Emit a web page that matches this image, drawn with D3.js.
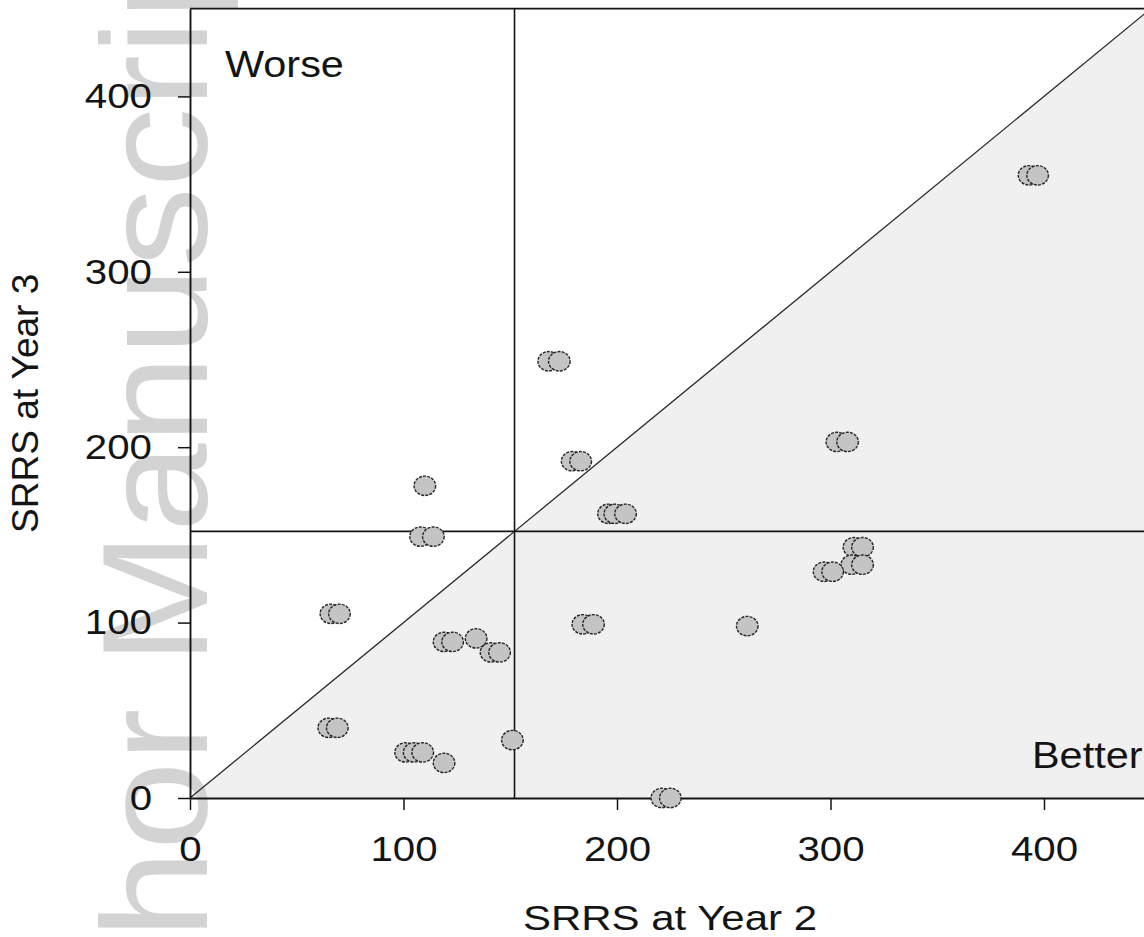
<!DOCTYPE html>
<html>
<head>
<meta charset="utf-8">
<script src="https://cdn.jsdelivr.net/npm/d3@7"></script>
<style>
  body { margin: 0; background: #fff; }
  svg { display: block; font-family: 'Liberation Sans', Arial, sans-serif; }
</style>
</head>
<body>
<div id="plot"></div>
<script>
// SRRS scores, one entry per child
const year2 = [110, 108, 114, 66, 70, 65, 69, 101, 105, 109, 119, 151, 221, 225,
    119, 123, 134, 141, 145, 184, 189, 261, 168, 173, 179, 183, 196, 199, 204,
    303, 308, 311, 315, 310, 315, 297, 301, 393, 397];
const year3 = [178, 149, 149, 105, 105, 40, 40, 26, 26, 26, 20, 33, 0, 0,
    89, 89, 91, 83, 83, 99, 99, 98, 249, 249, 192, 192, 162, 162, 162,
    203, 203, 143, 143, 133, 133, 129, 129, 355, 355];
const xTicks = [0, 100, 200, 300, 400];
const yTicks = [0, 100, 200, 300, 400];
const cutoff = 152;
const axisMax = 450;
const cornerLabels = ['Worse', 'Better'];
const xTitle = 'SRRS at Year 2';
const yTitle = 'SRRS at Year 3';
const watermark = 'Author Manuscript';

const W = 1144, H = 937;
const ink = '#141414';

const points = year2.map((d, i) => ({x: d, y: year3[i]}));

const svg = d3.select('#plot')
    .append('svg')
    .attr('width', W)
    .attr('height', H);

const x = d3.scaleLinear().domain([0, axisMax]).range([190, 190 + 2.135 * axisMax]);
const y = d3.scaleLinear().domain([0, axisMax]).range([798, 798 - 1.754 * axisMax]);

// stretch text horizontally, the source image is a bit wide
function widen(sel, k) {
    sel.each(function() {
        const w = this.getComputedTextLength();
        d3.select(this)
            .attr('textLength', w * k)
            .attr('lengthAdjust', 'spacingAndGlyphs');
    });
}

svg.append('rect')
    .attr('width', W).attr('height', H)
    .attr('fill', '#fff');

// "better" half below the identity line
svg.append('path')
    .attr('d', d3.line()([[x(0), y(0)], [x(axisMax), y(0)], [x(axisMax), y(axisMax)]]))
    .attr('fill', '#f0f0f0');

// watermark
svg.append('text')
    .attr('transform', `translate(207, 1177) rotate(-90)`)
    .attr('font-size', 150)
    .attr('fill', '#d3d3d3')
    .attr('textLength', 1290)
    .attr('lengthAdjust', 'spacingAndGlyphs')
    .text(watermark);

// frame top
svg.append('line')
    .attr('x1', x(0)).attr('x2', x(axisMax))
    .attr('y1', y(axisMax)).attr('y2', y(axisMax))
    .attr('stroke', ink).attr('stroke-width', 1.8);

// identity line
svg.append('line')
    .attr('x1', x(0)).attr('y1', y(0))
    .attr('x2', x(axisMax)).attr('y2', y(axisMax))
    .attr('stroke', '#2a2a2a').attr('stroke-width', 1.3);

// cutoff lines
svg.append('line')
    .attr('x1', x(cutoff)).attr('x2', x(cutoff))
    .attr('y1', y(0)).attr('y2', y(axisMax))
    .attr('stroke', ink).attr('stroke-width', 1.6);

svg.append('line')
    .attr('x1', x(0)).attr('x2', x(axisMax))
    .attr('y1', y(cutoff)).attr('y2', y(cutoff))
    .attr('stroke', ink).attr('stroke-width', 1.6);

// axes
const gx = svg.append('g')
    .attr('transform', `translate(0, ${y(0)})`)
    .call(d3.axisBottom(x).tickValues(xTicks).tickSize(12).tickSizeOuter(0).tickPadding(26));

const gy = svg.append('g')
    .attr('transform', `translate(${x(0)}, 0)`)
    .call(d3.axisLeft(y).tickValues(yTicks).tickSize(12).tickSizeOuter(0).tickPadding(26));

[gx, gy].forEach(g => {
    g.select('.domain').attr('stroke', ink).attr('stroke-width', 1.9);
    g.selectAll('.tick line').attr('stroke', ink).attr('stroke-width', 1.5);
    g.selectAll('.tick text')
        .attr('font-size', 35)
        .attr('font-family', "'Liberation Sans', Arial, sans-serif")
        .attr('fill', ink)
        .call(widen, 1.15);
});

// points
svg.append('g')
    .selectAll('ellipse')
    .data(points)
    .join('ellipse')
    .attr('cx', d => x(d.x))
    .attr('cy', d => y(d.y))
    .attr('rx', 10.8)
    .attr('ry', 9.7)
    .attr('fill', '#c4c4c4')
    .attr('stroke', '#262626')
    .attr('stroke-width', 1.4)
    .attr('stroke-dasharray', '3 1.2');

// corner labels
svg.append('text')
    .attr('x', 225).attr('y', 77)
    .attr('font-size', 36)
    .attr('fill', ink)
    .text(cornerLabels[0])
    .call(widen, 1.15);

svg.append('text')
    .attr('x', 1032).attr('y', 768)
    .attr('font-size', 36)
    .attr('fill', ink)
    .text(cornerLabels[1])
    .call(widen, 1.15);

// axis titles
svg.append('text')
    .attr('x', 670).attr('y', 930)
    .attr('text-anchor', 'middle')
    .attr('font-size', 35)
    .attr('fill', ink)
    .text(xTitle)
    .call(widen, 1.2);

svg.append('text')
    .attr('transform', `translate(38, ${(y(0) + y(axisMax)) / 2}) rotate(-90)`)
    .attr('text-anchor', 'middle')
    .attr('font-size', 37)
    .attr('fill', ink)
    .text(yTitle);
</script>
</body>
</html>
